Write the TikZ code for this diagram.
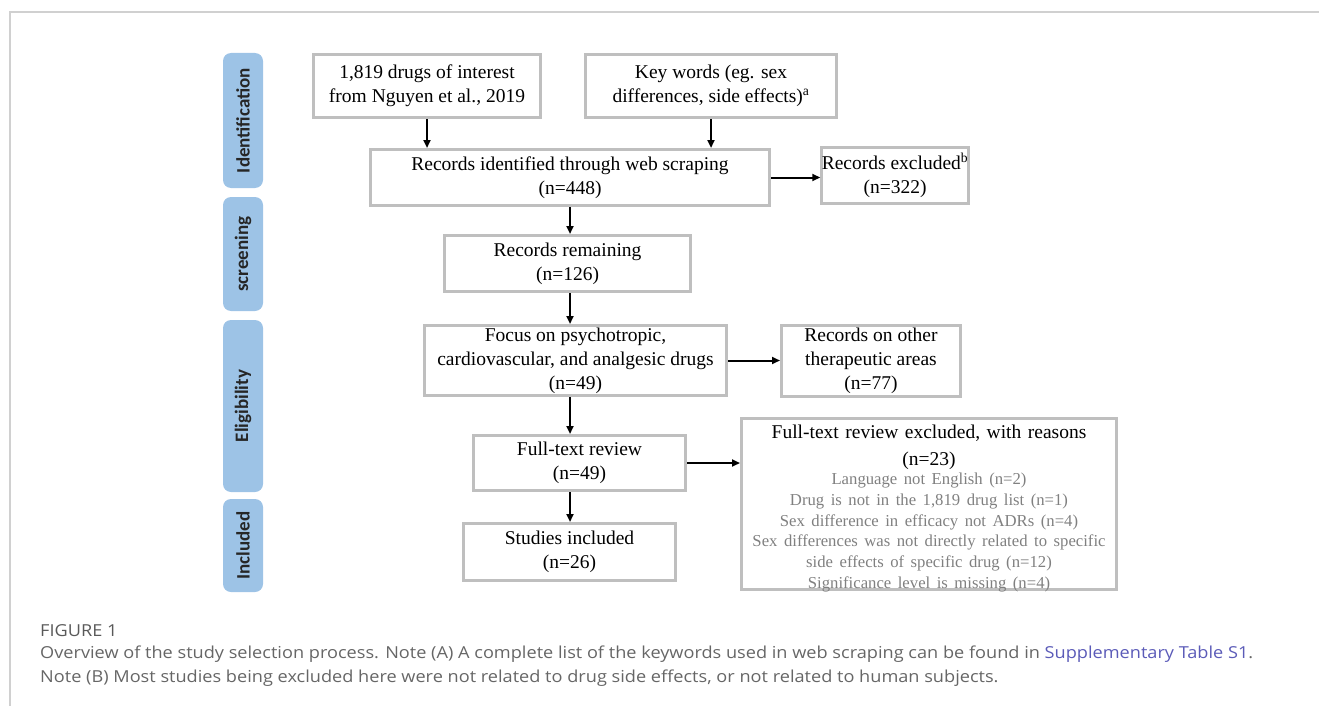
\documentclass[tikz,border=0pt]{standalone}
\usepackage{fontspec}
\setmainfont{Liberation Serif}
\newfontfamily\barfont{Carlito}
\newfontfamily\capfont[FakeStretch=1.1]{Open Sans}
\usetikzlibrary{positioning}
\usetikzlibrary{arrows.meta}
\definecolor{boxgray}{HTML}{BFBFBF}
\definecolor{barblue}{HTML}{9DC3E6}
\definecolor{txtgray}{HTML}{808080}
\definecolor{capgray}{HTML}{666666}
\definecolor{linkblue}{HTML}{5B5BB8}
\definecolor{framegray}{HTML}{D0D0D0}

\begin{document}
\begin{tikzpicture}[x=1pt,y=-1pt,
	box/.style={draw=boxgray, line width=3pt, align=center, inner sep=0pt, font=\fontsize{19.5}{24}\selectfont},
	phase/.style={fill=barblue, rounded corners=8pt, inner sep=0pt, minimum height=40pt, rotate=90, text=black!85, font=\barfont\bfseries\fontsize{19}{20}\selectfont},
	arr/.style={-{Triangle[length=8pt,width=7pt]}, line width=2pt},
	caption/.style={anchor=west, inner sep=0pt, text=capgray, font=\capfont\fontsize{16.5}{19}\selectfont}]
%	\draw[help lines](0,0) grid (1319,706);

	\useasboundingbox (0,0) rectangle (1319,706);
	\draw[framegray, line width=1.2pt] (1319,12) -- (10,12) -- (10,706);

	%%% phases %%%

	\node[phase, minimum width=135pt] (P1) at (243,120.5) {Identification};
	\node[phase, minimum width=114pt] (P2) at (243,254) {screening};
	\node[phase, minimum width=172pt] (P3) at (243,406) {Eligibility};
	\node[phase, minimum width=93pt] (P4) at (243,545.5) {Included};

	%%% identification %%%

	\node[box, minimum width=227pt, minimum height=63pt] (D1) at (427,86) {1,819 drugs of interest\\from Nguyen et al., 2019};
	\node[box, minimum width=251pt, minimum height=63pt] (K1) at (711,86) {Key words (eg. sex\\differences, side effects)\textsuperscript{a}};
	\node[box, minimum width=399pt, minimum height=56pt] (R1) at (570,177.5) {Records identified through web scraping\\(n=448)};
	\node[box, minimum width=143pt, minimum height=56pt] (X1) at (895,175.5) {Records excluded\textsuperscript{b}\\(n=322)};

	\path[arr] (D1.south) edge (D1.south |- R1.north);
	\path[arr] (K1.south) edge (K1.south |- R1.north);
	\path[arr] (R1.east) edge (R1.east -| X1.west);

	%%% screening %%%

	\node[box, minimum width=246pt, minimum height=56pt] (R2) at (567.5,263.5) {Records remaining\\(n=126)};

	\path[arr] (R1.south) edge (R1.south |- R2.north);

	%%% eligibility %%%

	\node[box, minimum width=302pt, minimum height=70pt] (F1) at (575.5,360.5) {Focus on psychotropic,\\cardiovascular, and analgesic drugs\\(n=49)};
	\node[box, minimum width=179pt, minimum height=71pt] (X2) at (871,361) {Records on other\\therapeutic areas\\(n=77)};
	\node[box, minimum width=212pt, minimum height=55pt] (F2) at (579.5,463) {Full-text review\\(n=49)};
	\node[box, inner ysep=-2pt, text width=375pt] (X3) at (929,504) {\rule{0pt}{22pt}Full-text review excluded, with reasons\\[3.3pt]
		(n=23)\\[-1.5pt]
		\color{txtgray}\fontsize{16.7}{20.7}\selectfont Language not English (n=2)\\
		Drug is not in the 1,819 drug list (n=1)\\
		Sex difference in efficacy not ADRs (n=4)\\
		Sex differences was not directly related to specific\\
		side effects of specific drug (n=12)\\
		Significance level is missing (n=4)\par};

	\path[arr] (R1.south |- R2.south) edge (R1.south |- F1.north);
	\path[arr] (F1.east) edge (F1.east -| X2.west);
	\path[arr] (R1.south |- F1.south) edge (R1.south |- F2.north);
	\path[arr] (F2.east) edge (F2.east -| X3.west);

	%%% included %%%

	\node[box, minimum width=212pt, minimum height=57pt] (S1) at (569.5,552) {Studies included\\(n=26)};

	\path[arr] (R1.south |- F2.south) edge (R1.south |- S1.north);

	%%% caption %%%

	\node[caption, text=black!65] (C1) at (40,631) {FIGURE 1};
	\node[caption] (C2) at (40,654) {Overview of the study selection process. Note (A) A complete list of the keywords used in web scraping can be found in \textcolor{linkblue}{Supplementary Table S1}.};
	\node[caption] (C3) at (40,678) {Note (B) Most studies being excluded here were not related to drug side effects, or not related to human subjects.};

\end{tikzpicture}
\end{document}
